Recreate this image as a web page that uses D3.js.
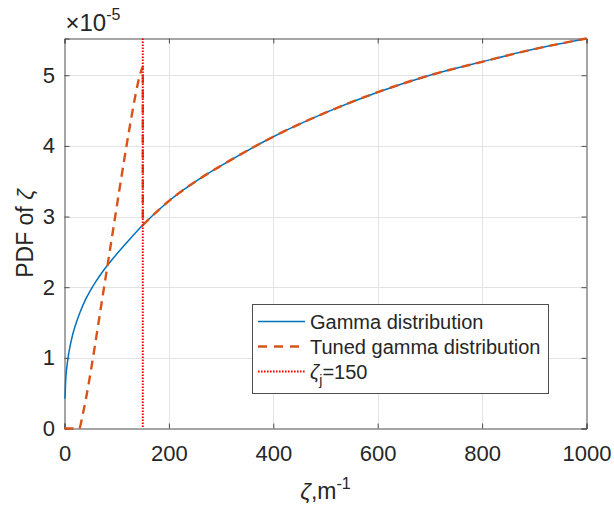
<!DOCTYPE html>
<html>
<head>
<meta charset="utf-8">
<script src="https://cdn.jsdelivr.net/npm/d3@7"></script>
<style>
html,body{margin:0;padding:0;background:#fff;}
svg{display:block;font-family:"Liberation Sans",Arial,Helvetica,sans-serif;}
</style>
</head>
<body>
<svg id="chart" width="614" height="508"></svg>
<script>
// ---- data (PDF values in units of 1e-5) ----
const gammaX = [1,2,3,5,7,10,15,20,30,40,50,60,75,100,125,150,200,260,300,400,500,600,700,800,900,1000];
const gammaY = [0.42,0.64,0.76,0.90,1.01,1.14,1.31,1.44,1.65,1.82,1.96,2.08,2.24,2.47,2.68,2.88,3.22,3.54,3.72,4.13,4.47,4.76,5.00,5.19,5.37,5.52];
const tunedX = [0,28,35,45,55,65,75,85,95,105,115,125,135,145,150];
const tunedY = [0,0,0.20,0.58,1.02,1.49,1.96,2.43,2.90,3.37,3.83,4.27,4.68,5.02,5.12];
const zetaJ = 150;
const xTicks = [0,200,400,600,800,1000];
const yTicks = [0,1,2,3,4,5];
const yMax = 5.52;
const legendLabels = ["Gamma distribution","Tuned gamma distribution"];

const svg = d3.select("#chart");
const m = {left:64.5, right:586.5, top:38.5, bottom:428.5};
const x = d3.scaleLinear().domain([0,1000]).range([m.left,m.right]);
const y = d3.scaleLinear().domain([0,yMax]).range([m.bottom,m.top]);

const cBlue = "#0072BD", cOrange = "#D95319", cRed = "#FF0000", cAxis = "#4d4d4d", cText = "#262626";

// grid
const g = svg.append("g");
g.selectAll(".gx").data(xTicks.slice(1,-1)).enter().append("line")
  .attr("x1",d=>Math.round(x(d))+0.5).attr("x2",d=>Math.round(x(d))+0.5).attr("y1",m.top).attr("y2",m.bottom)
  .attr("stroke","#e3e3e3").attr("stroke-width",1);
g.selectAll(".gy").data(yTicks.slice(1)).enter().append("line")
  .attr("y1",d=>Math.round(y(d))+0.5).attr("y2",d=>Math.round(y(d))+0.5).attr("x1",m.left).attr("x2",m.right)
  .attr("stroke","#e3e3e3").attr("stroke-width",1);

// axes
const ax = svg.append("g");
const xAxis = d3.axisBottom(x).tickValues(xTicks).tickSize(-5).tickPadding(17).tickFormat(d3.format("d"));
const yAxis = d3.axisLeft(y).tickValues(yTicks).tickSize(-5).tickPadding(9.5).tickFormat(d3.format("d"));
const xa = ax.append("g").attr("transform",`translate(0,${m.bottom})`).call(xAxis);
const ya = ax.append("g").attr("transform",`translate(${m.left},0)`).call(yAxis);
const xt = ax.append("g").attr("transform",`translate(0,${m.top})`).call(d3.axisTop(x).tickValues(xTicks).tickSize(-5).tickFormat(""));
const yr = ax.append("g").attr("transform",`translate(${m.right},0)`).call(d3.axisRight(y).tickValues(yTicks).tickSize(-5).tickFormat(""));
[xa,ya,xt,yr].forEach(a=>{
  a.select(".domain").attr("stroke",cAxis).attr("stroke-width",1);
  a.selectAll(".tick line").attr("stroke",cAxis);
  a.selectAll("text").attr("fill",cText).style("font-size","22px").style("font-family","'Liberation Sans',Arial,sans-serif");
});
xa.selectAll("text").attr("dy","0.71em");

// lines
const line = d3.line().x(d=>x(d[0])).y(d=>y(d[1])).curve(d3.curveMonotoneX);
const gammaPts = gammaX.map((v,i)=>[v,gammaY[i]]);
const tunedPts = tunedX.map((v,i)=>[v,tunedY[i]]);
const tailPts = gammaPts.filter(p=>p[0]>=zetaJ);

svg.append("clipPath").attr("id","clip").append("rect")
  .attr("x",m.left-1).attr("y",m.top-3).attr("width",m.right-m.left+4).attr("height",m.bottom-m.top+6);

const plot = svg.append("g").attr("clip-path","url(#clip)");
plot.append("path").attr("d",line(gammaPts)).attr("fill","none")
  .attr("stroke",cBlue).attr("stroke-width",1.5);
const tunedPath = line(tunedPts) + "L" + line(tailPts).slice(1);
plot.append("path").attr("d",tunedPath).attr("fill","none")
  .attr("stroke",cOrange).attr("stroke-width",2.4).attr("stroke-dasharray","9,6");
plot.append("line").attr("x1",x(zetaJ)).attr("x2",x(zetaJ)).attr("y1",m.top).attr("y2",m.bottom)
  .attr("stroke",cRed).attr("stroke-width",2).attr("stroke-dasharray","1.6,1.4");

// exponent
const ex = svg.append("text").attr("x",m.left+1).attr("y",31).attr("fill",cText)
  .style("font-size","24px");
ex.append("tspan").style("font-size","24px").text("\u00d710");
ex.append("tspan").attr("dy",-11).style("font-size","16px").text("-5");

// y label
svg.append("text").attr("transform",`translate(33,${(m.top+m.bottom)/2}) rotate(-90)`)
  .attr("text-anchor","middle").attr("fill",cText).style("font-size","23px")
  .html('PDF of <tspan font-style="italic">\u03b6</tspan>');

// x label
const xl = svg.append("text").attr("x",(m.left+m.right)/2).attr("y",499).attr("text-anchor","middle")
  .attr("fill",cText).style("font-size","23px");
xl.append("tspan").attr("font-style","italic").text("\u03b6");
xl.append("tspan").text(",m");
xl.append("tspan").attr("dy",-10).style("font-size","16px").text("-1");

// legend
const lg = svg.append("g");
lg.append("rect").attr("x",252.5).attr("y",304.5).attr("width",296).attr("height",89)
  .attr("fill","#fff").attr("stroke",cAxis).attr("stroke-width",1);
const rows = [321.5,346.5,371.5];
lg.append("line").attr("x1",258).attr("x2",305).attr("y1",rows[0]).attr("y2",rows[0]).attr("stroke",cBlue).attr("stroke-width",1.5);
lg.append("line").attr("x1",258).attr("x2",305).attr("y1",rows[1]).attr("y2",rows[1]).attr("stroke",cOrange).attr("stroke-width",2.4).attr("stroke-dasharray","9,7");
lg.append("line").attr("x1",258).attr("x2",305).attr("y1",rows[2]).attr("y2",rows[2]).attr("stroke",cRed).attr("stroke-width",2).attr("stroke-dasharray","1.6,1.4");
legendLabels.forEach((t,i)=>{
  lg.append("text").attr("x",310).attr("y",rows[i]).attr("dy","0.36em").attr("fill",cText).style("font-size","20px").text(t);
});
const lt = lg.append("text").attr("x",310).attr("y",rows[2]).attr("dy","0.36em").attr("fill",cText).style("font-size","20px");
lt.append("tspan").attr("font-style","italic").text("\u03b6");
lt.append("tspan").attr("dy",6).style("font-size","14px").text("j");
lt.append("tspan").attr("dy",-6).text("=" + zetaJ);
</script>
</body>
</html>
